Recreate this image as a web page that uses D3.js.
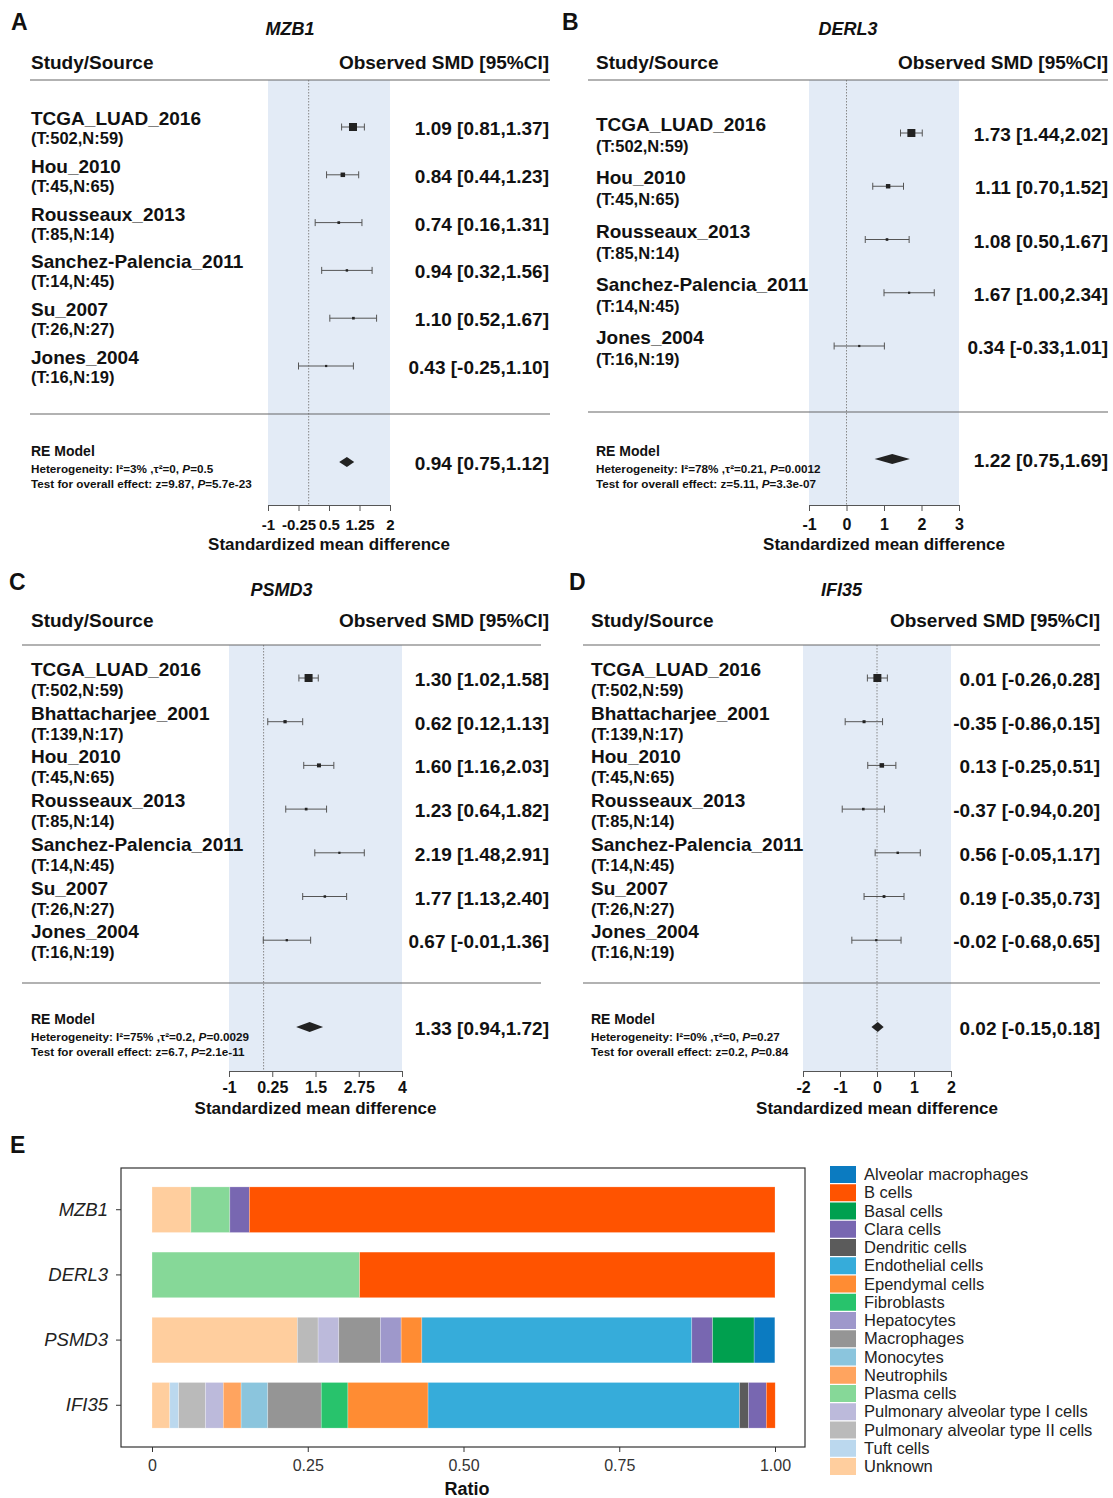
<!DOCTYPE html>
<html>
<head>
<meta charset="utf-8">
<script src="https://cdn.jsdelivr.net/npm/d3@7"></script>
<style>
  html, body { margin: 0; padding: 0; background: #fff; }
  svg text { font-family: "Liberation Sans", Arial, sans-serif; }
</style>
</head>
<body>
<svg id="fig" width="1113" height="1498"></svg>
<script>
// ---------- Forest plot data ----------
const studiesA = ["TCGA_LUAD_2016", "Hou_2010", "Rousseaux_2013", "Sanchez-Palencia_2011", "Su_2007", "Jones_2004"];
const samplesA = ["(T:502,N:59)", "(T:45,N:65)", "(T:85,N:14)", "(T:14,N:45)", "(T:26,N:27)", "(T:16,N:19)"];
const smdA = [1.09, 0.84, 0.74, 0.94, 1.10, 0.43];
const lowerA = [0.81, 0.44, 0.16, 0.32, 0.52, -0.25];
const upperA = [1.37, 1.23, 1.31, 1.56, 1.67, 1.10];
const pooledA = [0.94, 0.75, 1.12];
const hetA = ["3%", "0", "0.5", "9.87", "5.7e-23"];
const ticksA = [-1, -0.25, 0.5, 1.25, 2];

const studiesB = ["TCGA_LUAD_2016", "Hou_2010", "Rousseaux_2013", "Sanchez-Palencia_2011", "Jones_2004"];
const samplesB = ["(T:502,N:59)", "(T:45,N:65)", "(T:85,N:14)", "(T:14,N:45)", "(T:16,N:19)"];
const smdB = [1.73, 1.11, 1.08, 1.67, 0.34];
const lowerB = [1.44, 0.70, 0.50, 1.00, -0.33];
const upperB = [2.02, 1.52, 1.67, 2.34, 1.01];
const pooledB = [1.22, 0.75, 1.69];
const hetB = ["78%", "0.21", "0.0012", "5.11", "3.3e-07"];
const ticksB = [-1, 0, 1, 2, 3];

const studiesC = ["TCGA_LUAD_2016", "Bhattacharjee_2001", "Hou_2010", "Rousseaux_2013", "Sanchez-Palencia_2011", "Su_2007", "Jones_2004"];
const samplesC = ["(T:502,N:59)", "(T:139,N:17)", "(T:45,N:65)", "(T:85,N:14)", "(T:14,N:45)", "(T:26,N:27)", "(T:16,N:19)"];
const smdC = [1.30, 0.62, 1.60, 1.23, 2.19, 1.77, 0.67];
const lowerC = [1.02, 0.12, 1.16, 0.64, 1.48, 1.13, -0.01];
const upperC = [1.58, 1.13, 2.03, 1.82, 2.91, 2.40, 1.36];
const pooledC = [1.33, 0.94, 1.72];
const hetC = ["75%", "0.2", "0.0029", "6.7", "2.1e-11"];
const ticksC = [-1, 0.25, 1.5, 2.75, 4];

const studiesD = studiesC;
const samplesD = samplesC;
const smdD = [0.01, -0.35, 0.13, -0.37, 0.56, 0.19, -0.02];
const lowerD = [-0.26, -0.86, -0.25, -0.94, -0.05, -0.35, -0.68];
const upperD = [0.28, 0.15, 0.51, 0.20, 1.17, 0.73, 0.65];
const pooledD = [0.02, -0.15, 0.18];
const hetD = ["0%", "0", "0.27", "0.2", "0.84"];
const ticksD = [-2, -1, 0, 1, 2];

// ---------- Cell-type composition data ----------
const genesE = ["MZB1", "DERL3", "PSMD3", "IFI35"];
const cellTypes = ["Alveolar macrophages", "B cells", "Basal cells", "Clara cells", "Dendritic cells",
  "Endothelial cells", "Ependymal cells", "Fibroblasts", "Hepatocytes", "Macrophages", "Monocytes",
  "Neutrophils", "Plasma cells", "Pulmonary alveolar type I cells", "Pulmonary alveolar type II cells",
  "Tuft cells", "Unknown"];
const cellColors = ["#0b7bc1", "#ff5300", "#00a04f", "#7867b1", "#5b5b5b", "#36acda", "#ff8c33",
  "#28c36c", "#9e98cb", "#959595", "#8bc5dd", "#ffa45f", "#86d898", "#bcbadb", "#bababa",
  "#bbd8ee", "#ffce9e"];
const ratioMZB1  = [0, 0.8438, 0, 0.0312, 0, 0, 0, 0, 0, 0, 0, 0, 0.0625, 0, 0, 0, 0.0625];
const ratioDERL3 = [0, 0.6667, 0, 0, 0, 0, 0, 0, 0, 0, 0, 0, 0.3333, 0, 0, 0, 0];
const ratioPSMD3 = [0.0333, 0, 0.0667, 0.0333, 0, 0.4333, 0.0333, 0, 0.0333, 0.0667, 0, 0, 0, 0.0333, 0.0333, 0, 0.2333];
const ratioIFI35 = [0, 0.0143, 0, 0.0286, 0.0143, 0.5, 0.1286, 0.0429, 0, 0.0857, 0.0429, 0.0286, 0, 0.0286, 0.0429, 0.0143, 0.0286];
const ratioTicks = [0, 0.25, 0.5, 0.75, 1];
const ratioTickLabels = ["0", "0.25", "0.50", "0.75", "1.00"];

const svg = d3.select("#fig");
const INK = "#111";
const FONT = "Liberation Sans, Arial, sans-serif";
const fmt = v => v.toFixed(2);

// ---------- Forest plot panel ----------
function forest(p, lay) {
  const g = svg.append("g");
  const x = d3.scaleLinear().domain([p.ticks[0], p.ticks[p.ticks.length - 1]]).range(lay.range);
  const rowY = i => lay.rowStart + i * lay.rowStep;

  // shaded plotting region
  g.append("rect")
    .attr("x", lay.range[0]).attr("y", lay.lineTop)
    .attr("width", lay.range[1] - lay.range[0]).attr("height", lay.axisY - lay.lineTop)
    .attr("fill", "#e3ebf6");

  // null line
  g.append("line")
    .attr("x1", x(0)).attr("x2", x(0)).attr("y1", lay.lineTop).attr("y2", lay.axisY)
    .attr("stroke", "#888").attr("stroke-width", 1).attr("stroke-dasharray", "1.5,1.5");

  // separators
  [lay.lineTop, lay.lineBottom].forEach(y => {
    g.append("line").attr("x1", lay.lineL).attr("x2", lay.lineR).attr("y1", y).attr("y2", y)
      .attr("stroke", "#666").attr("stroke-width", 1.2);
  });

  // panel letter, gene title, header
  g.append("text").attr("x", lay.letterX).attr("y", lay.letterY).text(p.letter)
    .attr("font-size", 23).attr("font-weight", "bold").attr("fill", INK);
  g.append("text").attr("x", (lay.lineL + lay.lineR) / 2).attr("y", lay.titleY).text(p.gene)
    .attr("text-anchor", "middle").attr("font-size", 18).attr("font-weight", "bold")
    .attr("font-style", "italic").attr("fill", INK);
  g.append("text").attr("x", lay.textL).attr("y", lay.headerY).text("Study/Source")
    .attr("font-size", 19).attr("font-weight", "bold").attr("fill", INK);
  g.append("text").attr("x", lay.textR).attr("y", lay.headerY).text("Observed SMD [95%CI]")
    .attr("text-anchor", "end").attr("font-size", 19).attr("font-weight", "bold").attr("fill", INK);

  // marker sizes scaled by inverse-variance weight
  const w = p.smd.map((d, i) => { const se = (p.hi[i] - p.lo[i]) / 3.92; return 1 / (se * se); });
  const sz = d3.scaleLinear().domain(d3.extent(w)).range([2.2, 8]);

  p.studies.forEach((s, i) => {
    const y = rowY(i);
    g.append("text").attr("x", lay.textL).attr("y", y - 2).text(s)
      .attr("font-size", 19).attr("font-weight", "bold").attr("fill", INK);
    g.append("text").attr("x", lay.textL).attr("y", y + lay.subOff).text(p.samples[i])
      .attr("font-size", 16.5).attr("font-weight", "bold").attr("fill", INK);
    g.append("text").attr("x", lay.textR).attr("y", y + 8)
      .text(`${fmt(p.smd[i])} [${fmt(p.lo[i])},${fmt(p.hi[i])}]`)
      .attr("text-anchor", "end").attr("font-size", 19).attr("font-weight", "bold").attr("fill", INK);
    // CI whisker with caps
    g.append("line").attr("x1", x(p.lo[i])).attr("x2", x(p.hi[i])).attr("y1", y).attr("y2", y)
      .attr("stroke", "#555").attr("stroke-width", 1);
    [p.lo[i], p.hi[i]].forEach(v => {
      g.append("line").attr("x1", x(v)).attr("x2", x(v)).attr("y1", y - 3.5).attr("y2", y + 3.5)
        .attr("stroke", "#555").attr("stroke-width", 1);
    });
    const s2 = sz(w[i]);
    g.append("rect").attr("x", x(p.smd[i]) - s2 / 2).attr("y", y - s2 / 2)
      .attr("width", s2).attr("height", s2).attr("fill", "#222");
  });

  // pooled estimate
  const [est, plo, phi] = p.pooled;
  const ry = lay.reY;
  g.append("path")
    .attr("d", `M${x(plo)},${ry} L${x(est)},${ry - 5} L${x(phi)},${ry} L${x(est)},${ry + 5} Z`)
    .attr("fill", "#222");
  g.append("text").attr("x", lay.textR).attr("y", ry + 8)
    .text(`${fmt(est)} [${fmt(plo)},${fmt(phi)}]`)
    .attr("text-anchor", "end").attr("font-size", 19).attr("font-weight", "bold").attr("fill", INK);
  g.append("text").attr("x", lay.textL).attr("y", lay.reTextY).text("RE Model")
    .attr("font-size", 14).attr("font-weight", "bold").attr("fill", INK);

  const het = g.append("text").attr("x", lay.textL).attr("y", lay.reTextY + 17)
    .attr("font-size", 11.7).attr("font-weight", "bold").attr("fill", INK);
  het.append("tspan").text(`Heterogeneity: I\u00b2=${p.het[0]} ,\u03c4\u00b2=${p.het[1]}, `);
  het.append("tspan").attr("font-style", "italic").text("P");
  het.append("tspan").text(`=${p.het[2]}`);
  const tst = g.append("text").attr("x", lay.textL).attr("y", lay.reTextY + 32)
    .attr("font-size", 11.7).attr("font-weight", "bold").attr("fill", INK);
  tst.append("tspan").text(`Test for overall effect: z=${p.het[3]}, `);
  tst.append("tspan").attr("font-style", "italic").text("P");
  tst.append("tspan").text(`=${p.het[4]}`);

  // x axis
  const ax = g.append("g").attr("transform", `translate(0,${lay.axisY})`)
    .call(d3.axisBottom(x).tickValues(p.ticks).tickSize(6).tickPadding(lay.tickPad)
      .tickFormat(d => String(d)));
  ax.select(".domain").attr("stroke", "#555");
  ax.selectAll(".tick line").attr("stroke", "#555");
  ax.selectAll(".tick text").attr("font-size", lay.tickFont).attr("font-weight", "bold").attr("fill", INK)
    .attr("font-family", FONT);
  g.append("text").attr("x", (lay.range[0] + lay.range[1]) / 2).attr("y", lay.axisY + lay.titleOff)
    .text("Standardized mean difference").attr("text-anchor", "middle")
    .attr("font-size", 17).attr("font-weight", "bold").attr("fill", INK);
}

forest({ letter: "A", gene: "MZB1", studies: studiesA, samples: samplesA, smd: smdA, lo: lowerA, hi: upperA,
         pooled: pooledA, het: hetA, ticks: ticksA },
       { range: [268, 390], rowStart: 127, rowStep: 47.8, subOff: 17, reY: 462, reTextY: 456,
         lineTop: 80, lineBottom: 414, axisY: 505, tickPad: 8, titleOff: 45, tickFont: 15,
         lineL: 30, lineR: 550, textL: 31, textR: 549,
         letterX: 11, letterY: 30, titleY: 35, headerY: 69 });

forest({ letter: "B", gene: "DERL3", studies: studiesB, samples: samplesB, smd: smdB, lo: lowerB, hi: upperB,
         pooled: pooledB, het: hetB, ticks: ticksB },
       { range: [809, 959], rowStart: 133, rowStep: 53.25, subOff: 19, reY: 459, reTextY: 456,
         lineTop: 80, lineBottom: 412, axisY: 505, tickPad: 8, titleOff: 45, tickFont: 16,
         lineL: 588, lineR: 1108, textL: 596, textR: 1108,
         letterX: 562, letterY: 30, titleY: 35, headerY: 69 });

forest({ letter: "C", gene: "PSMD3", studies: studiesC, samples: samplesC, smd: smdC, lo: lowerC, hi: upperC,
         pooled: pooledC, het: hetC, ticks: ticksC },
       { range: [229, 402], rowStart: 678, rowStep: 43.7, subOff: 18, reY: 1027, reTextY: 1024,
         lineTop: 645, lineBottom: 983, axisY: 1071, tickPad: 5, titleOff: 43, tickFont: 16,
         lineL: 22, lineR: 541, textL: 31, textR: 549,
         letterX: 9, letterY: 590, titleY: 596, headerY: 627 });

forest({ letter: "D", gene: "IFI35", studies: studiesD, samples: samplesD, smd: smdD, lo: lowerD, hi: upperD,
         pooled: pooledD, het: hetD, ticks: ticksD },
       { range: [803, 951], rowStart: 678, rowStep: 43.7, subOff: 18, reY: 1027, reTextY: 1024,
         lineTop: 645, lineBottom: 983, axisY: 1071, tickPad: 5, titleOff: 43, tickFont: 16,
         lineL: 583, lineR: 1100, textL: 591, textR: 1100,
         letterX: 569, letterY: 590, titleY: 596, headerY: 627 });

// ---------- Panel E: stacked composition bars ----------
(function () {
  const g = svg.append("g");
  const ratios = [ratioMZB1, ratioDERL3, ratioPSMD3, ratioIFI35];
  const rows = genesE.map((gene, gi) => {
    const r = { gene };
    cellTypes.forEach((c, ci) => { r[c] = ratios[gi][ci]; });
    return r;
  });
  // stacked from the left in reverse alphabetical order
  const keys = cellTypes.slice().reverse();
  const series = d3.stack().keys(keys)(rows);
  const color = d3.scaleOrdinal().domain(cellTypes).range(cellColors);

  const x = d3.scaleLinear().domain([0, 1]).range([152, 775]);
  const y = d3.scaleBand().domain(genesE).range([1168, 1447]).paddingInner(0.3).paddingOuter(0.29);

  g.append("text").attr("x", 10).attr("y", 1153).text("E")
    .attr("font-size", 23).attr("font-weight", "bold").attr("fill", INK);

  g.selectAll("g.layer").data(series).join("g").attr("class", "layer")
    .attr("fill", d => color(d.key))
    .selectAll("rect").data(d => d).join("rect")
    .attr("x", d => x(d[0])).attr("width", d => Math.max(0, x(d[1]) - x(d[0])))
    .attr("y", d => y(d.data.gene)).attr("height", y.bandwidth())
    .attr("stroke", d => (d[1] - d[0]) > 0 ? "rgba(255,255,255,0.5)" : "none")
    .attr("stroke-width", 0.5);

  // plot frame
  g.append("rect").attr("x", 121).attr("y", 1168).attr("width", 684).attr("height", 279)
    .attr("fill", "none").attr("stroke", "#333").attr("stroke-width", 1.2);

  const xa = g.append("g").attr("transform", "translate(0,1447)")
    .call(d3.axisBottom(x).tickValues(ratioTicks).tickSize(5).tickPadding(8)
      .tickFormat((d, i) => ratioTickLabels[i]));
  xa.select(".domain").remove();
  xa.selectAll(".tick line").attr("stroke", "#333");
  xa.selectAll(".tick text").attr("font-size", 16).attr("fill", "#333")
    .attr("font-family", FONT);

  const ya = g.append("g").attr("transform", "translate(121,0)")
    .call(d3.axisLeft(y).tickSize(5).tickPadding(8));
  ya.select(".domain").remove();
  ya.selectAll(".tick line").attr("stroke", "#333");
  ya.selectAll(".tick text").attr("font-size", 18.5).attr("font-style", "italic").attr("fill", "#222")
    .attr("font-family", FONT);

  g.append("text").attr("x", 467).attr("y", 1495).text("Ratio").attr("text-anchor", "middle")
    .attr("font-size", 18).attr("font-weight", "bold").attr("fill", INK);

  // legend
  const lg = g.append("g").attr("transform", "translate(830,1166)");
  cellTypes.forEach((c, i) => {
    const row = lg.append("g").attr("transform", `translate(0,${i * 18.25})`);
    row.append("rect").attr("width", 26).attr("height", 17).attr("fill", cellColors[i]);
    row.append("text").attr("x", 34).attr("y", 14).text(c)
      .attr("font-size", 16.5).attr("fill", "#222");
  });
})();
</script>
</body>
</html>
